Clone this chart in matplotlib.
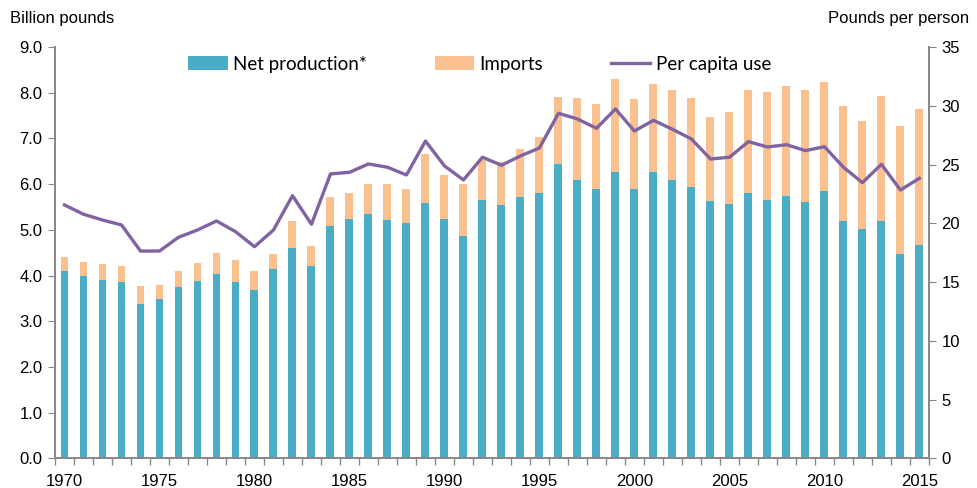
import matplotlib.pyplot as plt
import numpy as np

plt.rcParams['font.family'] = ['Liberation Sans', 'DejaVu Sans']

years = np.arange(1970, 2016)
net_production = [4.10, 3.98, 3.90, 3.85, 3.38, 3.49, 3.74, 3.87, 4.04, 3.86,
                  3.68, 4.15, 4.61, 4.21, 5.09, 5.24, 5.35, 5.22, 5.15, 5.58,
                  5.24, 4.87, 5.65, 5.54, 5.71, 5.81, 6.43, 6.08, 5.89, 6.27,
                  5.89, 6.27, 6.09, 5.94, 5.62, 5.57, 5.81, 5.65, 5.74, 5.60,
                  5.85, 5.20, 5.02, 5.20, 4.47, 4.67]
total_supply = [4.41, 4.30, 4.25, 4.20, 3.77, 3.80, 4.09, 4.27, 4.49, 4.33,
                4.10, 4.47, 5.19, 4.65, 5.72, 5.80, 6.01, 6.00, 5.90, 6.66,
                6.21, 6.00, 6.53, 6.48, 6.77, 7.04, 7.91, 7.88, 7.76, 8.30,
                7.87, 8.19, 8.05, 7.89, 7.46, 7.58, 8.05, 8.01, 8.15, 8.05,
                8.23, 7.71, 7.38, 7.93, 7.27, 7.65]
imports = np.array(total_supply) - np.array(net_production)
per_capita = [21.56, 20.77, 20.28, 19.86, 17.64, 17.64, 18.81, 19.43, 20.20, 19.29,
              18.01, 19.43, 22.35, 19.92, 24.20, 24.34, 25.05, 24.77, 24.11, 27.00,
              24.88, 23.69, 25.62, 24.94, 25.73, 26.41, 29.36, 28.88, 28.08, 29.73,
              27.85, 28.76, 28.00, 27.17, 25.47, 25.62, 26.95, 26.49, 26.69, 26.18,
              26.52, 24.77, 23.46, 25.02, 22.83, 23.83]

teal = '#4bacc6'
peach = '#fac090'
purple = '#8064a2'
grey = '#868686'

fig = plt.figure(figsize=(9.77, 4.88), dpi=100)
ax = fig.add_axes([0.0563, 0.0607, 0.8945, 0.843])
ax2 = ax.twinx()

b1 = ax.bar(years, net_production, width=0.42, color=teal, label='Net production*', zorder=2)
b2 = ax.bar(years, imports, width=0.42, bottom=net_production, color=peach, label='Imports', zorder=2)
l1, = ax2.plot(years, per_capita, color=purple, lw=2.4, label='Per capita use')

ax.set_xlim(1969.5, 2015.5)
ax.set_ylim(0, 9)
ax2.set_ylim(0, 35)
ax.set_yticks(np.arange(0, 9.01, 1.0))
ax.set_yticklabels([f'{v:.1f}' for v in np.arange(0, 9.01, 1.0)])
ax2.set_yticks(np.arange(0, 36, 5))

ax.set_xticks(np.arange(1970, 2016, 5))
ax.set_xticks(np.arange(1969.5, 2016, 1), minor=True)
ax.tick_params(axis='x', which='major', length=0, pad=11, labelsize=12)
ax.tick_params(axis='x', which='minor', length=5, color=grey, width=1)
ax.tick_params(axis='y', length=5, color=grey, labelsize=12, pad=4)
ax2.tick_params(axis='y', length=5, color=grey, labelsize=12, pad=4)

for a in (ax, ax2):
    a.spines['top'].set_visible(False)
    for s in ('left', 'right', 'bottom'):
        a.spines[s].set_color(grey)
        a.spines[s].set_linewidth(1.2)

fig.text(0.010, 0.962, 'Billion pounds', fontsize=12, va='center', ha='left')
fig.text(0.992, 0.962, 'Pounds per person', fontsize=12, va='center', ha='right')

leg = ax.legend([b1, b2, l1], ['Net production*', 'Imports', 'Per capita use'],
                ncol=3, frameon=False, loc='upper center', bbox_to_anchor=(0.486, 1.02),
                handlelength=2.1, handleheight=0.8, handletextpad=0.3, columnspacing=3.6,
                prop={'family': ['Lato', 'DejaVu Sans'], 'size': 13.5})

plt.savefig('out.png', dpi=100)
